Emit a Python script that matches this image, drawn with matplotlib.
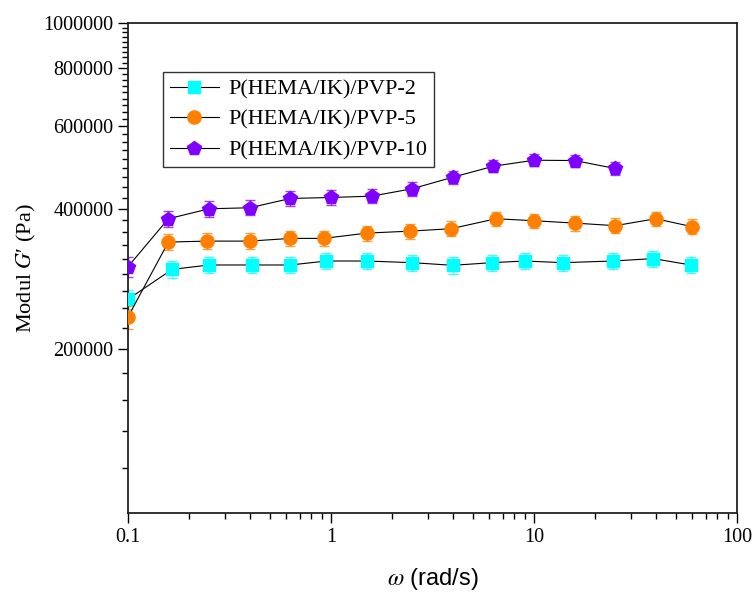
import numpy as np
import matplotlib
matplotlib.use('Agg')
import matplotlib.pyplot as plt
from matplotlib.ticker import FixedLocator, NullFormatter, FuncFormatter

plt.rcParams['font.family'] = ['Liberation Serif', 'DejaVu Serif']
plt.rcParams['mathtext.fontset'] = 'stix'

# Frequency (rad/s) and storage modulus G' (Pa)
w_pvp2 = [0.1, 0.165, 0.251, 0.41, 0.63, 0.95, 1.5, 2.51, 3.98, 6.2, 9.0, 13.9, 24.4, 38.7, 59.2]
g_pvp2 = [255600, 296200, 302700, 302700, 302700, 308700, 308700, 306200, 302200, 306200,
          308700, 306200, 308700, 312400, 302700]
e_pvp2 = [12000] * 15

w_pvp5 = [0.1, 0.158, 0.245, 0.398, 0.631, 0.92, 1.5, 2.45, 3.9, 6.5, 9.97, 15.85, 25.1, 39.8, 60.0]
g_pvp5 = [234200, 339000, 340600, 340600, 345200, 345200, 354300, 357800, 362100, 380400,
          376700, 372300, 367600, 380400, 365800]
e_pvp5 = [13500] * 15

w_pvp10 = [0.1, 0.158, 0.251, 0.398, 0.631, 1.0, 1.585, 2.51, 3.98, 6.31, 10.0, 15.85, 25.1]
g_pvp10 = [300200, 380400, 399600, 401600, 420500, 422500, 425300, 441100, 467000, 493100,
           507900, 507100, 487600]
e_pvp10 = [15000] * 13

labels = ['P(HEMA/IK)/PVP-2', 'P(HEMA/IK)/PVP-5', 'P(HEMA/IK)/PVP-10']
colors = ['#00FFFF', '#FF8000', '#8000FF']
markers = ['s', 'o', 'p']
sizes = [8, 9.5, 10.5]

fig = plt.figure(figsize=(7.53, 5.92), dpi=100)
ax = fig.add_axes([0.170, 0.1334, 0.8088, 0.8276])

series = [(w_pvp2, g_pvp2, e_pvp2), (w_pvp5, g_pvp5, e_pvp5), (w_pvp10, g_pvp10, e_pvp10)]
for (x, y, e), lab, c, m, s in zip(series, labels, colors, markers, sizes):
    ax.errorbar(x, y, yerr=e, fmt='none', ecolor=c, elinewidth=1.0, capsize=3.5,
                capthick=1.0, alpha=0.75, zorder=2)
    ax.plot(x, y, color='black', lw=0.8, marker=m, ms=s, mfc=c, mec=c,
            label=lab, zorder=3)

ax.set_xscale('log')
ax.set_yscale('log')
ax.set_xlim(0.1, 100)
ax.set_ylim(88889, 1000000)

# y ticks: majors every 200000, 8 minors in between
major_y = [200000, 400000, 600000, 800000, 1000000]
minor_y = []
for start in [0, 200000, 400000, 600000, 800000]:
    for k in range(1, 9):
        v = start + k * 200000 / 9
        if v > 88889:
            minor_y.append(v)
ax.yaxis.set_major_locator(FixedLocator(major_y))
ax.yaxis.set_minor_locator(FixedLocator(minor_y))
ax.yaxis.set_major_formatter(FuncFormatter(lambda v, p: '%d' % round(v)))
ax.yaxis.set_minor_formatter(NullFormatter())

ax.xaxis.set_major_formatter(FuncFormatter(lambda v, p: '%g' % v))

ax.tick_params(which='major', direction='out', length=7, width=1.0, labelsize=14.5,
               top=False, right=False)
ax.tick_params(which='minor', direction='out', length=4, width=1.0, top=False, right=False)
for sp in ax.spines.values():
    sp.set_linewidth(1.3)
    sp.set_color('#222222')

ax.set_ylabel("Modul $G$\u2032 (Pa)", fontsize=16, labelpad=4)
ax.set_xlabel(r"$\omega$ (rad/s)", fontsize=17, family='Liberation Sans', labelpad=14)

leg = ax.legend(loc='upper left', bbox_to_anchor=(0.0575, 0.9), borderaxespad=0,
                fontsize=16, frameon=True, fancybox=False, framealpha=1,
                edgecolor='#333333', handlelength=2.2, handletextpad=0.45,
                labelspacing=0.45, borderpad=0.3)
leg.get_frame().set_linewidth(1.0)

fig.savefig('out.png', dpi=100)
